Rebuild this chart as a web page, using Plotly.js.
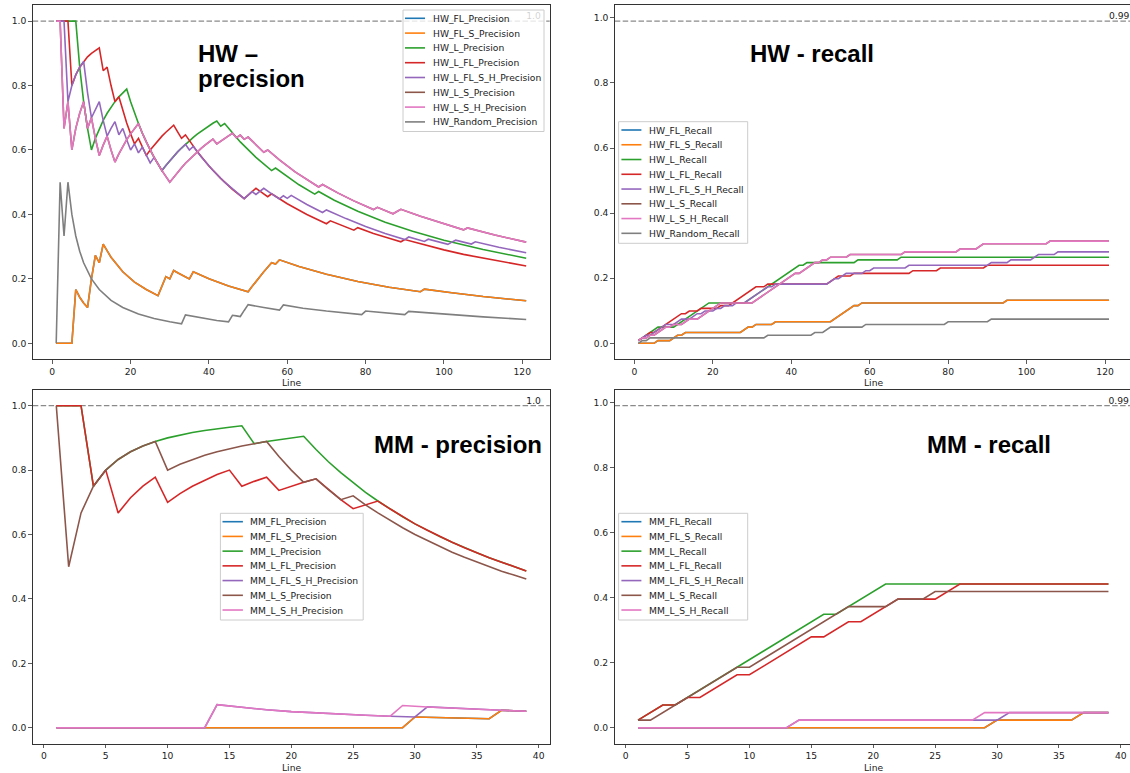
<!DOCTYPE html>
<html><head><meta charset="utf-8">
<script src="https://cdn.plot.ly/plotly-3.0.1.min.js"></script>
<style>html,body{margin:0;padding:0;background:#fff;}#chart{width:1130px;height:773px;}</style>
</head><body><div id="chart"></div>
<script>
// ---------------- DATA ----------------
// HW precision
const hwFLSPrecX = [1,5,6,7,8,9,10,11,12,13,15,18,21,24,27,28,29,30,31,32,35,36,40,45,50,51,52,53,54,55,56,57,58,63,70,78,86,94,95,102,110,121];
const hwFLSPrecY = [0,0,.167,.143,.125,.111,.2,.273,.25,.308,.267,.222,.190,.167,.148,.179,.207,.2,.226,.219,.2,.222,.2,.178,.16,.176,.192,.208,.222,.236,.25,.246,.259,.238,.214,.192,.174,.160,.168,.157,.145,.132];
const hwFLPrecX = hwFLSPrecX, hwFLPrecY = hwFLSPrecY; // hidden under FL_S
const hwLPrecX = [1,6,7,8,9,10,11,12,13,14,15,16,17,18,19,20,21,22,23,24,25,26,27,28,29,30,31,32,33,34,35,36,37,38,39,40,41,42,43,44,48,52,56,57,60,63,67,68,72,78,85,92,100,110,121];
const hwLPrecY = [1,1,.857,.75,.667,.6,.636,.667,.692,.714,.733,.75,.765,.778,.789,.75,.714,.682,.652,.625,.6,.577,.556,.536,.552,.567,.581,.594,.606,.618,.629,.639,.649,.658,.667,.675,.683,.690,.674,.682,.625,.577,.536,.544,.517,.492,.463,.471,.444,.410,.376,.348,.32,.291,.264];
const hwLFLPrecX = [1,4,5,6,7,8,9,10,11,12,13,14,15,16,17,18,19,20,21,22,23,24,25,26,27,28,29,30,31,32,33,34,35,37,40,43,46,49,50,51,52,53,55,56,60,65,70,71,74,77,78,82,86,89,90,95,100,105,110,115,121];
const hwLFLPrecY = [1,1,.8,.833,.857,.875,.889,.9,.909,.917,.846,.857,.8,.75,.765,.722,.684,.65,.619,.636,.609,.583,.6,.615,.630,.643,.655,.667,.677,.656,.636,.647,.629,.595,.55,.512,.478,.449,.46,.471,.481,.472,.455,.464,.433,.4,.371,.380,.365,.351,.359,.341,.326,.315,.322,.305,.29,.276,.264,.252,.240];
const hwLFLSHPrecX = [1,3,4,5,6,7,8,9,10,11,12,13,14,15,16,17,18,19,20,21,22,23,24,25,26,27,28,29,30,31,32,33,34,35,36,38,41,44,47,49,50,51,52,53,54,56,58,59,60,61,65,69,70,75,80,85,90,91,95,96,101,102,103,107,108,114,121];
const hwLFLSHPrecY = [1,1,.75,.8,.833,.857,.875,.778,.7,.727,.75,.692,.643,.667,.688,.647,.667,.632,.6,.619,.591,.609,.583,.56,.577,.556,.536,.552,.567,.581,.594,.606,.618,.6,.611,.579,.537,.5,.468,.449,.46,.471,.462,.472,.481,.464,.448,.458,.45,.459,.431,.406,.414,.387,.3625,.341,.322,.330,.316,.323,.307,.314,.320,.308,.315,.298,.281];
const hwLSHPrecX = [1,2,3,4,5,6,7,8,9,10,11,12,13,14,15,16,17,18,19,20,21,22,23,24,26,28,30,31,32,33,34,35,36,37,38,39,40,41,42,43,44,45,46,47,48,49,50,52,54,55,58,62,65,68,69,73,77,82,83,87,88,89,94,99,105,106,113,121];
const hwLSHPrecY = [1,1,.667,.75,.6,.667,.714,.75,.667,.7,.636,.583,.615,.643,.6,.5625,.588,.611,.632,.65,.667,.682,.652,.625,.577,.536,.5,.516,.531,.545,.559,.571,.583,.595,.605,.615,.625,.634,.619,.628,.636,.644,.652,.638,.646,.633,.64,.615,.593,.6,.569,.532,.508,.485,.493,.466,.442,.415,.422,.402,.409,.416,.394,.374,.352,.358,.336,.314];
const hwLSPrecX = hwLSHPrecX, hwLSPrecY = hwLSHPrecY; // hidden under L_S_H
const hwRandPrecX = [1,2,3,4,5,6,7,8,10,12,15,18,22,26,30,33,34,38,42,45,46,47,48,49,50,54,58,59,64,70,75,79,80,85,90,91,100,110,121];
const hwRandPrecY = [0,.5,.333,.5,.4,.333,.286,.25,.2,.167,.133,.111,.091,.077,.0667,.0606,.088,.079,.071,.0667,.087,.085,.083,.102,.12,.111,.103,.119,.109,.1,.093,.089,.1,.094,.089,.099,.09,.082,.074];

// HW recall
const hwFLSRecX = [1,5,6,9,11,12,13,27,29,30,31,35,36,50,56,57,58,94,95,121];
const hwFLSRecY = [0,0,.0083,.0083,.0248,.0248,.0331,.0331,.0496,.0496,.0579,.0579,.0661,.0661,.1157,.1157,.124,.124,.1322,.1322];
const hwFLRecX = hwFLSRecX, hwFLRecY = hwFLSRecY;
const hwLRecX = [1,6,10,19,28,42,43,44,56,57,67,68,121];
const hwLRecY = [.0083,.0496,.0496,.124,.124,.2397,.2397,.2479,.2479,.2562,.2562,.2645,.2645];
const hwLFLRecX = [1,4,5,12,13,14,16,17,21,22,24,31,33,34,49,52,55,56,70,71,77,78,89,90,121];
const hwLFLRecY = [.0083,.0331,.0331,.0909,.0909,.0992,.0992,.1074,.1074,.1157,.1157,.1736,.1736,.1818,.1818,.2066,.2066,.2149,.2149,.2231,.2231,.2314,.2314,.2397,.2397];
const hwLFLSHRecX = [1,3,4,8,10,12,14,16,17,18,20,21,22,23,25,26,28,34,35,36,49,51,52,54,58,59,60,61,69,70,90,91,95,96,101,103,107,108,121];
const hwLFLSHRecY = [.0083,.0248,.0248,.0579,.0579,.0744,.0744,.0909,.0909,.0992,.0992,.1074,.1074,.1157,.1157,.124,.124,.1736,.1736,.1818,.1818,.1983,.1983,.2149,.2149,.2231,.2231,.2314,.2314,.2397,.2397,.2479,.2479,.2562,.2562,.2727,.2727,.281,.281];
const hwLSHRecX = [1,2,3,4,5,8,9,10,12,14,16,22,30,41,42,46,47,48,49,50,54,55,68,69,82,83,87,89,105,106,121];
const hwLSHRecY = [.0083,.0165,.0165,.0248,.0248,.0496,.0496,.0579,.0579,.0744,.0744,.124,.124,.2149,.2149,.2479,.2479,.2562,.2562,.2645,.2645,.2727,.2727,.281,.281,.2893,.2893,.3058,.3058,.314,.314];
const hwLSRecX = hwLSHRecX, hwLSRecY = hwLSHRecY;
const hwRandRecX = [1,2,3,4,33,34,45,46,48,50,58,59,79,80,90,91,121];
const hwRandRecY = [0,.0083,.0083,.0165,.0165,.0248,.0248,.0331,.0331,.0496,.0496,.0579,.0579,.0661,.0661,.0744,.0744];

// MM precision
const mmX = [1,2,3,4,5,6,7,8,9,10,11,12,13,14,15,16,17,18,19,20,21,22,23,24,25,26,27,28,29,30,31,32,33,34,35,36,37,38,39];
const mmLPrecY = [1,1,1,.75,.8,.833,.857,.875,.889,.9,.909,.917,.923,.929,.933,.9375,.882,.889,.895,.9,.905,.864,.826,.792,.76,.731,.704,.679,.655,.633,.613,.594,.576,.559,.543,.528,.514,.5,.487];
const mmLFLPrecY = [1,1,1,.75,.8,.667,.714,.75,.778,.7,.727,.75,.769,.786,.8,.75,.765,.778,.737,.75,.762,.773,.739,.708,.68,.692,.704,.679,.655,.633,.613,.594,.576,.559,.543,.528,.514,.5,.487];
const mmLSPrecY = [1,.5,.667,.75,.8,.833,.857,.875,.889,.8,.818,.833,.846,.857,.867,.875,.882,.889,.842,.8,.762,.773,.739,.708,.72,.692,.667,.643,.621,.6,.581,.5625,.545,.529,.514,.5,.486,.474,.462];
const mmLSHPrecX = [1,13,14,16,18,20,22,24,26,28,29,31,33,35,37,39];
const mmLSHPrecY = [0,0,.0714,.0625,.0556,.05,.0455,.0417,.0385,.0357,.069,.0645,.0606,.0571,.0541,.0513];
const mmLFLSHPrecX = [1,13,14,16,18,20,22,24,26,28,29,30,31,33,35,37,39];
const mmLFLSHPrecY = [0,0,.0714,.0625,.0556,.05,.0455,.0417,.0385,.0357,.0345,.0333,.0645,.0606,.0571,.0541,.0513];
const mmFLSPrecX = [1,29,30,32,34,36,37,38,39];
const mmFLSPrecY = [0,0,.0333,.0313,.0294,.0278,.0541,.0526,.0513];
const mmFLPrecX = mmFLSPrecX, mmFLPrecY = mmFLSPrecY;

// MM recall
const mmLRecX = [1,3,4,16,17,21,39];
const mmLRecY = [.0233,.0698,.0698,.3488,.3488,.4419,.4419];
const mmLFLRecX = [1,3,4,5,6,9,10,15,16,18,19,22,25,27,39];
const mmLFLRecY = [.0233,.0698,.0698,.093,.093,.1628,.1628,.2791,.2791,.3256,.3256,.3953,.3953,.4419,.4419];
const mmLSRecX = [1,2,9,10,18,21,22,24,25,39];
const mmLSRecY = [.0233,.0233,.186,.186,.3721,.3721,.3953,.3953,.4186,.4186];
const mmLSHRecX = [1,13,14,28,29,39];
const mmLSHRecY = [0,0,.0233,.0233,.0465,.0465];
const mmLFLSHRecX = [1,13,14,30,31,39];
const mmLFLSHRecY = [0,0,.0233,.0233,.0465,.0465];
const mmFLSRecX = [1,29,30,36,37,39];
const mmFLSRecY = [0,0,.0233,.0233,.0465,.0465];
const mmFLRecX = mmFLSRecX, mmFLRecY = mmFLSRecY;

// names, colours, ticks
const hwPrecNames = ['HW_FL_Precision','HW_FL_S_Precision','HW_L_Precision','HW_L_FL_Precision','HW_L_FL_S_H_Precision','HW_L_S_Precision','HW_L_S_H_Precision','HW_Random_Precision'];
const hwRecNames = ['HW_FL_Recall','HW_FL_S_Recall','HW_L_Recall','HW_L_FL_Recall','HW_L_FL_S_H_Recall','HW_L_S_Recall','HW_L_S_H_Recall','HW_Random_Recall'];
const mmPrecNames = ['MM_FL_Precision','MM_FL_S_Precision','MM_L_Precision','MM_L_FL_Precision','MM_L_FL_S_H_Precision','MM_L_S_Precision','MM_L_S_H_Precision'];
const mmRecNames = ['MM_FL_Recall','MM_FL_S_Recall','MM_L_Recall','MM_L_FL_Recall','MM_L_FL_S_H_Recall','MM_L_S_Recall','MM_L_S_H_Recall'];
const palette = ['#1f77b4','#ff7f0e','#2ca02c','#d62728','#9467bd','#8c564b','#e377c2','#7f7f7f'];
const yTickVals = [0,0.2,0.4,0.6,0.8,1.0];
const yTickText = ['0.0','0.2','0.4','0.6','0.8','1.0'];
const hwXTicks = [0,20,40,60,80,100,120];
const mmXTicks = [0,5,10,15,20,25,30,35,40];
const refPrec = 1.0, refRec = 0.99;
const panelTitles = ['HW \u2013','precision','HW - recall','MM - precision','MM - recall'];

// ---------------- BUILD ----------------
const W = 1130, H = 773;
const px = v => v / W, py = v => 1 - v / H;

const subplots = [
  {names: hwPrecNames, xa:'x', ya:'y', series: [[hwFLPrecX,hwFLPrecY],[hwFLSPrecX,hwFLSPrecY],[hwLPrecX,hwLPrecY],[hwLFLPrecX,hwLFLPrecY],[hwLFLSHPrecX,hwLFLSHPrecY],[hwLSPrecX,hwLSPrecY],[hwLSHPrecX,hwLSHPrecY],[hwRandPrecX,hwRandPrecY]]},
  {names: hwRecNames, xa:'x2', ya:'y2', series: [[hwFLRecX,hwFLRecY],[hwFLSRecX,hwFLSRecY],[hwLRecX,hwLRecY],[hwLFLRecX,hwLFLRecY],[hwLFLSHRecX,hwLFLSHRecY],[hwLSRecX,hwLSRecY],[hwLSHRecX,hwLSHRecY],[hwRandRecX,hwRandRecY]]},
  {names: mmPrecNames, xa:'x3', ya:'y3', series: [[mmFLPrecX,mmFLPrecY],[mmFLSPrecX,mmFLSPrecY],[mmX,mmLPrecY],[mmX,mmLFLPrecY],[mmLFLSHPrecX,mmLFLSHPrecY],[mmX,mmLSPrecY],[mmLSHPrecX,mmLSHPrecY]]},
  {names: mmRecNames, xa:'x4', ya:'y4', series: [[mmFLRecX,mmFLRecY],[mmFLSRecX,mmFLSRecY],[mmLRecX,mmLRecY],[mmLFLRecX,mmLFLRecY],[mmLFLSHRecX,mmLFLSHRecY],[mmLSRecX,mmLSRecY],[mmLSHRecX,mmLSHRecY]]}
];

const traces = [];
subplots.forEach(sp => {
  sp.series.forEach((s, i) => {
    traces.push({type:'scatter', mode:'lines', x:s[0], y:s[1], xaxis:sp.xa, yaxis:sp.ya,
      name: sp.names[i], line:{color: palette[i], width:1.6}, showlegend:false, hoverinfo:'skip'});
  });
});

const tickFont = {family:'DejaVu Sans', size:9.2, color:'#222'};
const axBase = {showline:true, linecolor:'#333', linewidth:1, ticks:'outside', ticklen:3.5, tickwidth:0.8,
  tickcolor:'#333', showgrid:false, zeroline:false, tickfont:tickFont, fixedrange:true};
const topDom = [py(359.4), py(5)], botDom = [py(743.8), py(389.6)];

const layout = {
  width: W, height: H, autosize:false, margin:{l:0,r:0,t:0,b:0},
  paper_bgcolor:'#fff', plot_bgcolor:'rgba(0,0,0,0)', showlegend:false,
  xaxis: Object.assign({}, axBase, {domain:[px(32.7), px(549.7)], range:[-5,127], tickmode:'array', tickvals:hwXTicks, anchor:'y', mirror:true}),
  yaxis: Object.assign({}, axBase, {domain:topDom, range:[-0.05,1.05], tickmode:'array', tickvals:yTickVals, ticktext:yTickText, anchor:'x', mirror:true}),
  xaxis2: Object.assign({}, axBase, {domain:[px(614.8), 1], range:[-5,126.36], tickmode:'array', tickvals:hwXTicks, anchor:'y2', mirror:true}),
  yaxis2: Object.assign({}, axBase, {domain:topDom, range:[-0.0495,1.0395], tickmode:'array', tickvals:yTickVals, ticktext:yTickText, anchor:'x2'}),
  xaxis3: Object.assign({}, axBase, {domain:[px(32.8), px(549.8)], range:[-0.9,40.9], tickmode:'array', tickvals:mmXTicks, anchor:'y3', mirror:true}),
  yaxis3: Object.assign({}, axBase, {domain:botDom, range:[-0.05,1.05], tickmode:'array', tickvals:yTickVals, ticktext:yTickText, anchor:'x3', mirror:true}),
  xaxis4: Object.assign({}, axBase, {domain:[px(614.5), 1], range:[-0.9,40.74], tickmode:'array', tickvals:mmXTicks, anchor:'y4', mirror:true}),
  yaxis4: Object.assign({}, axBase, {domain:botDom, range:[-0.0495,1.0395], tickmode:'array', tickvals:yTickVals, ticktext:yTickText, anchor:'x4'}),
  shapes: [], annotations: []
};

// reference dashed lines + their value labels
const refs = [
  {xa:'x', ya:'y', y:refPrec, txt:'1.0', xl:121},
  {xa:'x2', ya:'y2', y:refRec, txt:'0.99', xl:121},
  {xa:'x3', ya:'y3', y:refPrec, txt:'1.0', xl:39},
  {xa:'x4', ya:'y4', y:refRec, txt:'0.99', xl:39}
];
refs.forEach(r => {
  layout.shapes.push({type:'line', xref:r.xa+' domain', yref:r.ya, x0:0, x1:1, y0:r.y, y1:r.y,
    line:{color:'#8a8a8a', width:1.3, dash:'5.5px,2.4px'}, layer:'below'});
  layout.shapes.push({type:'line', xref:r.xa, yref:r.ya, x0:r.xl, x1:r.xl+3, y0:r.y, y1:r.y,
    line:{color:'rgba(0,0,0,0)', width:1}, layer:'below',
    label:{text:r.txt, textposition:'start', xanchor:'left', yanchor:'bottom', padding:0, font:tickFont}});
});

// legends (box, line samples, text)
function addLegend(names, box, lx0, lx1, tx, y0, dy) {
  layout.shapes.push({type:'rect', xref:'paper', yref:'paper', x0:px(box[0]), x1:px(box[1]), y0:py(box[3]), y1:py(box[2]),
    fillcolor:'rgba(255,255,255,0.8)', line:{color:'#cccccc', width:1}, layer:'above'});
  names.forEach((n, i) => {
    const yy = y0 + dy * i;
    layout.shapes.push({type:'line', xref:'paper', yref:'paper', x0:px(lx0), x1:px(lx1), y0:py(yy), y1:py(yy),
      line:{color:palette[i], width:1.6}, layer:'above'});
    layout.annotations.push({xref:'paper', yref:'paper', x:px(tx), y:py(yy), xanchor:'left', yanchor:'middle',
      text:n, showarrow:false, borderpad:0, font:{family:'DejaVu Sans', size:9.2, color:'#222'}});
  });
}
addLegend(hwPrecNames, [403,544,10,131.5], 405, 425, 432, 18.3, 14.8);
addLegend(hwRecNames, [618.6,747.7,121.7,243.3], 621.4, 641.4, 648.4, 130, 14.76);
addLegend(mmPrecNames, [220.4,363.2,513.3,620], 222.5, 242.9, 249.3, 521.7, 14.72);
addLegend(mmRecNames, [618.6,747.7,513.3,620], 621.4, 641.4, 648.4, 521.7, 14.72);

// axis labels "Line"
[[291,382.8],[873.5,382.8],[291,767.2],[873.5,767.2]].forEach(p => {
  layout.annotations.push({xref:'paper', yref:'paper', x:px(p[0]), y:py(p[1]), xanchor:'center', yanchor:'middle',
    text:'Line', showarrow:false, borderpad:0, font:{family:'DejaVu Sans', size:9.2, color:'#222'}});
});

// in-panel titles
const titleFont = {family:'Liberation Sans, Arial, sans-serif', size:24, color:'#000'};
[[panelTitles[0],197,53.4],[panelTitles[1],197,78.5],[panelTitles[2],749,53.4],[panelTitles[3],373,444],[panelTitles[4],925.5,444.4]].forEach(t => {
  layout.annotations.push({xref:'paper', yref:'paper', x:px(t[1]), y:py(t[2]), xanchor:'left', yanchor:'middle',
    text:'<b>'+t[0]+'</b>', showarrow:false, borderpad:0, font:titleFont});
});

Plotly.newPlot('chart', traces, layout, {displayModeBar:false, staticPlot:true});
</script></body></html>
